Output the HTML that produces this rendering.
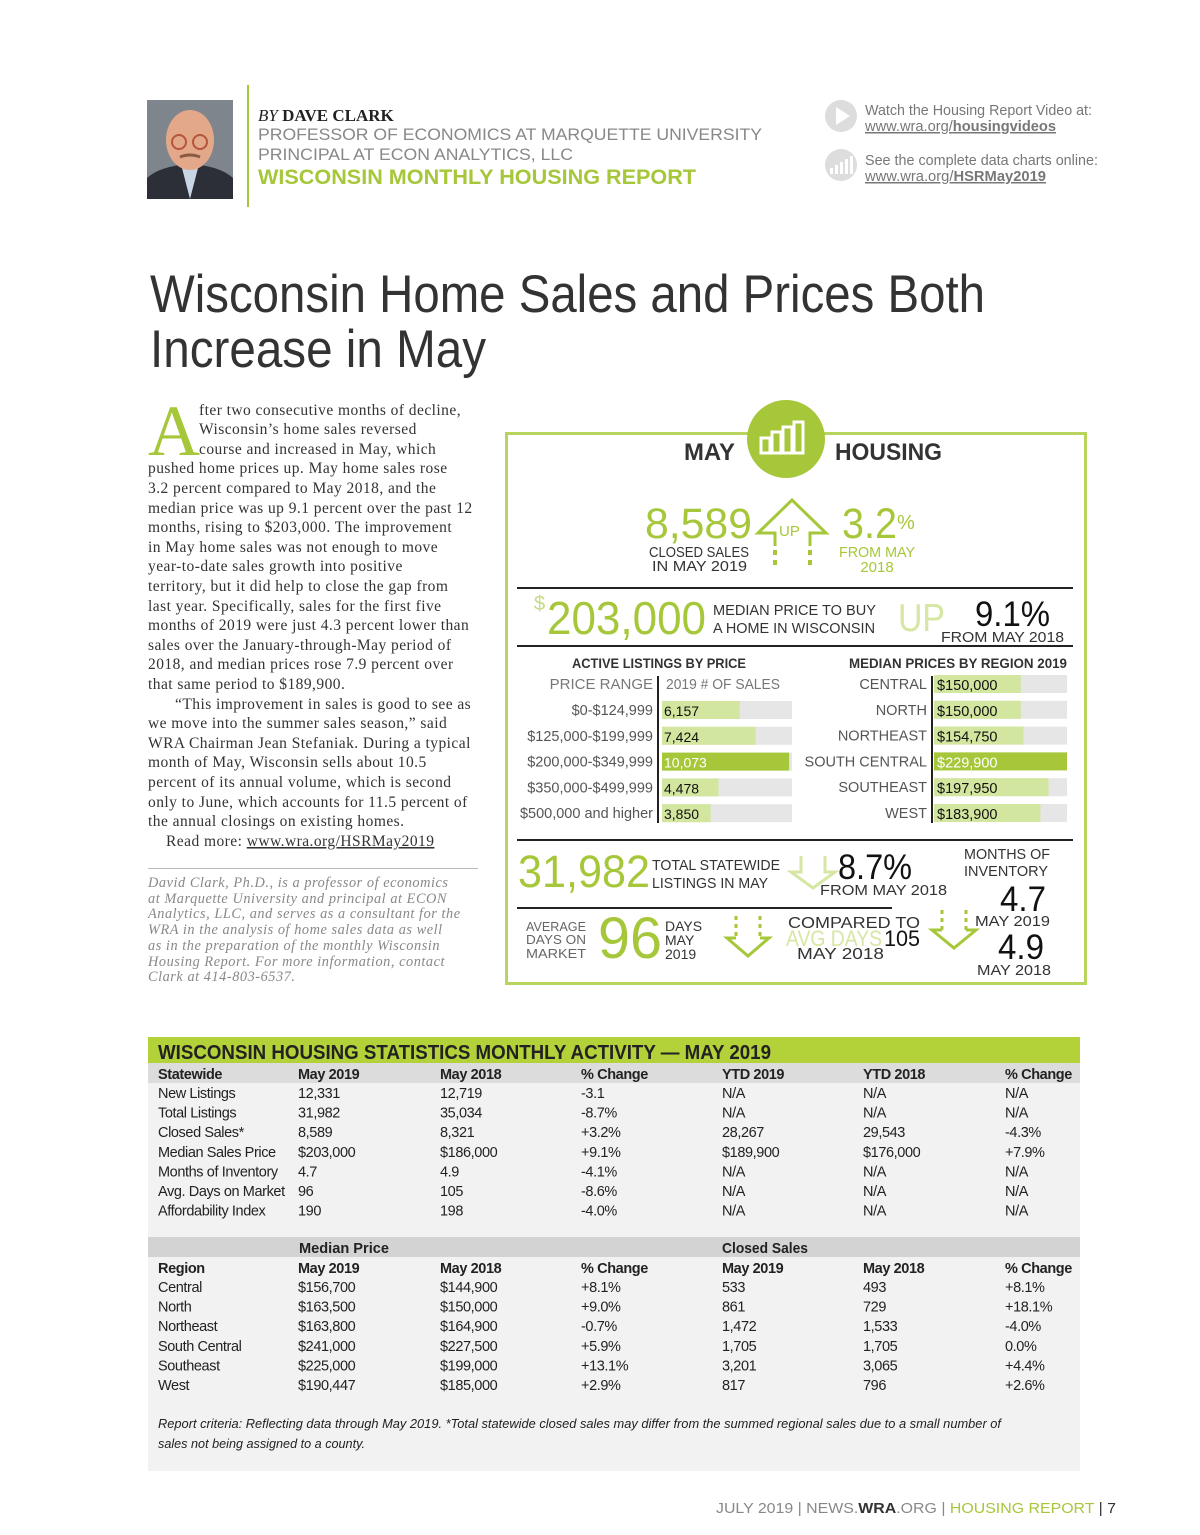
<!DOCTYPE html>
<html><head><meta charset="utf-8"><style>
html,body{margin:0;padding:0;background:#fff}
svg{display:block}
.sans{font-family:"Liberation Sans",sans-serif}
.serif{font-family:"Liberation Serif",serif}
</style></head><body>
<svg id="page" width="1200" height="1535" viewBox="0 0 1200 1535" xmlns="http://www.w3.org/2000/svg">
<rect width="1200" height="1535" fill="#fff"/>
<!-- header -->
<g>
<rect x="147" y="100" width="86" height="99" fill="#7e858c"/>
<path d="M147 199 L147 178 Q160 166 190 164 Q220 166 233 178 L233 199Z" fill="#2c2e38"/>
<path d="M182 168 L190 199 L198 168Z" fill="#c9d6e6"/>
<ellipse cx="190" cy="140" rx="24" ry="30" fill="#e3a88a"/>
<circle cx="179" cy="142" r="7" fill="none" stroke="#b5553a" stroke-width="2"/>
<circle cx="200" cy="142" r="7" fill="none" stroke="#b5553a" stroke-width="2"/>
<path d="M180 157 Q190 153 200 157" stroke="#8a5a40" stroke-width="3" fill="none"/>
</g>
<rect x="247" y="85" width="2" height="122" fill="#a6c73a"/>
<text x="258" y="121" class="serif" font-size="17" font-weight="bold" fill="#222"><tspan font-style="italic" font-weight="normal">BY</tspan> DAVE CLARK</text>
<text x="258" y="140" class="sans" font-size="17" fill="#888" textLength="504" lengthAdjust="spacingAndGlyphs">PROFESSOR OF ECONOMICS AT MARQUETTE UNIVERSITY</text>
<text x="258" y="160" class="sans" font-size="17" fill="#888" textLength="315" lengthAdjust="spacingAndGlyphs">PRINCIPAL AT ECON ANALYTICS, LLC</text>
<text x="258" y="184" class="sans" font-size="21" font-weight="bold" fill="#a6c73a" textLength="438" lengthAdjust="spacingAndGlyphs">WISCONSIN MONTHLY HOUSING REPORT</text>
<circle cx="841" cy="116" r="16" fill="#ddd"/>
<path d="M836 107 L850 116 L836 125Z" fill="#fff"/>
<text x="865" y="115" class="sans" font-size="15" fill="#777" textLength="227" lengthAdjust="spacingAndGlyphs">Watch the Housing Report Video at:</text>
<text x="865" y="131" class="sans" font-size="15" fill="#777" text-decoration="underline" textLength="191" lengthAdjust="spacingAndGlyphs">www.wra.org/<tspan font-weight="bold">housingvideos</tspan></text>
<circle cx="841" cy="165" r="16" fill="#ddd"/>
<g fill="#fff"><rect x="830" y="168" width="3" height="6"/><rect x="835" y="165" width="3" height="9"/><rect x="840" y="162" width="3" height="12"/><rect x="845" y="159" width="3" height="15"/><rect x="850" y="156" width="3" height="18"/></g>
<text x="865" y="165" class="sans" font-size="15" fill="#777" textLength="233" lengthAdjust="spacingAndGlyphs">See the complete data charts online:</text>
<text x="865" y="181" class="sans" font-size="15" fill="#777" text-decoration="underline" textLength="181" lengthAdjust="spacingAndGlyphs">www.wra.org/<tspan font-weight="bold">HSRMay2019</tspan></text>

<!-- title -->
<text x="150" y="312" class="sans" font-size="53" fill="#333" textLength="835" lengthAdjust="spacingAndGlyphs">Wisconsin Home Sales and Prices Both</text>
<text x="150" y="367" class="sans" font-size="53" fill="#333" textLength="336" lengthAdjust="spacingAndGlyphs">Increase in May</text>

<!-- body -->
<text x="148" y="455" class="serif" font-size="72" fill="#a6c73a">A</text>
<g class="serif" font-size="15.5" fill="#333" letter-spacing="0.45">
<text x="199" y="415">fter two consecutive months of decline,</text>
<text x="199" y="434">Wisconsin’s home sales reversed</text>
<text x="199" y="454">course and increased in May, which</text>
<text x="148" y="473">pushed home prices up. May home sales rose</text>
<text x="148" y="493">3.2 percent compared to May 2018, and the</text>
<text x="148" y="513">median price was up 9.1 percent over the past 12</text>
<text x="148" y="532">months, rising to $203,000. The improvement</text>
<text x="148" y="552">in May home sales was not enough to move</text>
<text x="148" y="571">year-to-date sales growth into positive</text>
<text x="148" y="591">territory, but it did help to close the gap from</text>
<text x="148" y="611">last year. Specifically, sales for the first five</text>
<text x="148" y="630">months of 2019 were just 4.3 percent lower than</text>
<text x="148" y="650">sales over the January-through-May period of</text>
<text x="148" y="669">2018, and median prices rose 7.9 percent over</text>
<text x="148" y="689">that same period to $189,900.</text>
<text x="175" y="709">“This improvement in sales is good to see as</text>
<text x="148" y="728">we move into the summer sales season,” said</text>
<text x="148" y="748">WRA Chairman Jean Stefaniak. During a typical</text>
<text x="148" y="767">month of May, Wisconsin sells about 10.5</text>
<text x="148" y="787">percent of its annual volume, which is second</text>
<text x="148" y="807">only to June, which accounts for 11.5 percent of</text>
<text x="148" y="826">the annual closings on existing homes.</text>
<text x="166" y="846">Read more: <tspan text-decoration="underline">www.wra.org/HSRMay2019</tspan></text>
</g>
<rect x="148" y="868" width="330" height="1" fill="#bbb"/>
<g class="serif" font-size="14.3" font-style="italic" fill="#888" letter-spacing="0.55">
<text x="148" y="887">David Clark, Ph.D., is a professor of economics</text>
<text x="148" y="903">at Marquette University and principal at ECON</text>
<text x="148" y="918">Analytics, LLC, and serves as a consultant for the</text>
<text x="148" y="934">WRA in the analysis of home sales data as well</text>
<text x="148" y="950">as in the preparation of the monthly Wisconsin</text>
<text x="148" y="966">Housing Report. For more information, contact</text>
<text x="148" y="981">Clark at 414-803-6537.</text>
</g>

<!-- infographic -->
<g class="sans">
<rect x="506.5" y="433.5" width="579" height="550" fill="#fff" stroke="#b7d45c" stroke-width="3"/>
<circle cx="786" cy="439" r="39" fill="#a6c73a"/>
<g fill="none" stroke="#fff" stroke-width="3"><rect x="761" y="438" width="9" height="15"/><rect x="772" y="432" width="9" height="21"/><rect x="783" y="427" width="9" height="26"/><rect x="794" y="422" width="9" height="31"/></g>
<text x="684" y="460" font-size="24" font-weight="bold" fill="#333" textLength="51" lengthAdjust="spacingAndGlyphs">MAY</text>
<text x="835" y="460" font-size="24" font-weight="bold" fill="#333" textLength="107" lengthAdjust="spacingAndGlyphs">HOUSING</text>

<text x="645" y="538" font-size="43" fill="#a6c73a" textLength="107" lengthAdjust="spacingAndGlyphs">8,589</text>
<path d="M775 546 V533 H758 L792 500 L826 533 H810 V546" fill="none" stroke="#a6c73a" stroke-width="3" stroke-linejoin="miter"/>
<path d="M775 550 V569 M810 550 V569" stroke="#a6c73a" stroke-width="4" stroke-dasharray="5 5"/>
<text x="779" y="536" font-size="15" fill="#a6c73a">UP</text>
<text x="842" y="538" font-size="43" fill="#a6c73a" textLength="55" lengthAdjust="spacingAndGlyphs">3.2</text>
<text x="897" y="529" font-size="20" fill="#a6c73a">%</text>
<text x="649" y="557" font-size="15" fill="#333" textLength="100" lengthAdjust="spacingAndGlyphs">CLOSED SALES</text>
<text x="652" y="571" font-size="15" fill="#333" textLength="95" lengthAdjust="spacingAndGlyphs">IN MAY 2019</text>
<text x="839" y="557" font-size="15" fill="#a6c73a" textLength="76" lengthAdjust="spacingAndGlyphs">FROM MAY</text>
<text x="877" y="572" font-size="15" fill="#a6c73a" text-anchor="middle">2018</text>
<rect x="517" y="587" width="556" height="2" fill="#222"/>

<text x="534" y="610" font-size="20" fill="#c5dc80">$</text>
<text x="547" y="634" font-size="46" fill="#a6c73a" textLength="159" lengthAdjust="spacingAndGlyphs">203,000</text>
<text x="713" y="615" font-size="15" fill="#333" textLength="163" lengthAdjust="spacingAndGlyphs">MEDIAN PRICE TO BUY</text>
<text x="713" y="633" font-size="15" fill="#333" textLength="162" lengthAdjust="spacingAndGlyphs">A HOME IN WISCONSIN</text>
<text x="898" y="631" font-size="39" fill="#d6e6a3" textLength="47" lengthAdjust="spacingAndGlyphs">UP</text>
<text x="975" y="626" font-size="35" fill="#111" textLength="75" lengthAdjust="spacingAndGlyphs">9.1%</text>
<text x="941" y="642" font-size="15" fill="#333" textLength="123" lengthAdjust="spacingAndGlyphs">FROM MAY 2018</text>
<rect x="517" y="645" width="556" height="2" fill="#222"/>

<text x="659" y="668" font-size="14" font-weight="bold" fill="#333" text-anchor="middle" textLength="174" lengthAdjust="spacingAndGlyphs">ACTIVE LISTINGS BY PRICE</text>
<text x="849" y="668" font-size="14" font-weight="bold" fill="#333" textLength="218" lengthAdjust="spacingAndGlyphs">MEDIAN PRICES BY REGION  2019</text>
<text x="653" y="689" font-size="15" fill="#777" text-anchor="end">PRICE RANGE</text>
<text x="666" y="689" font-size="15" fill="#777" textLength="114" lengthAdjust="spacingAndGlyphs">2019 # OF SALES</text>
<rect x="657" y="676" width="2" height="147" fill="#222"/>
<rect x="931" y="676" width="2" height="147" fill="#222"/>
<g id="listingBars"></g>
<g id="regionBars"></g>
<rect x="517" y="839" width="556" height="2" fill="#222"/>

<text x="518" y="887" font-size="45" fill="#a6c73a" textLength="132" lengthAdjust="spacingAndGlyphs">31,982</text>
<text x="652" y="870" font-size="15" fill="#333" textLength="128" lengthAdjust="spacingAndGlyphs">TOTAL STATEWIDE</text>
<text x="652" y="888" font-size="15" fill="#333" textLength="116" lengthAdjust="spacingAndGlyphs">LISTINGS IN MAY</text>
<path d="M801 856 V872 H791 L813 888 L835 872 H825 V856" fill="none" stroke="#d6e6a3" stroke-width="3"/>
<text x="838" y="879" font-size="35" fill="#111" textLength="74" lengthAdjust="spacingAndGlyphs">8.7%</text>
<text x="820" y="895" font-size="15" fill="#333" textLength="127" lengthAdjust="spacingAndGlyphs">FROM MAY 2018</text>
<text x="964" y="859" font-size="15" fill="#333" textLength="86" lengthAdjust="spacingAndGlyphs">MONTHS OF</text>
<text x="964" y="876" font-size="15" fill="#333" textLength="84" lengthAdjust="spacingAndGlyphs">INVENTORY</text>
<text x="1000" y="911" font-size="35" fill="#111" textLength="46" lengthAdjust="spacingAndGlyphs">4.7</text>
<text x="975" y="926" font-size="15" fill="#333" textLength="75" lengthAdjust="spacingAndGlyphs">MAY 2019</text>
<text x="998" y="959" font-size="35" fill="#111" textLength="46" lengthAdjust="spacingAndGlyphs">4.9</text>
<text x="977" y="975" font-size="15" fill="#333" textLength="74" lengthAdjust="spacingAndGlyphs">MAY 2018</text>
<rect x="517" y="907" width="375" height="2" fill="#222"/>

<text x="526" y="931" font-size="13" fill="#666" textLength="60" lengthAdjust="spacingAndGlyphs">AVERAGE</text>
<text x="526" y="944" font-size="13" fill="#666" textLength="60" lengthAdjust="spacingAndGlyphs">DAYS ON</text>
<text x="526" y="958" font-size="13" fill="#666" textLength="60" lengthAdjust="spacingAndGlyphs">MARKET</text>
<text x="598" y="958" font-size="58" fill="#a6c73a" textLength="64" lengthAdjust="spacingAndGlyphs">96</text>
<text x="665" y="931" font-size="14" fill="#333">DAYS</text>
<text x="665" y="945" font-size="14" fill="#333">MAY</text>
<text x="665" y="959" font-size="14" fill="#333">2019</text>
<path d="M736 916 V938 M760 916 V938" stroke="#a6c73a" stroke-width="3" stroke-dasharray="4 4"/>
<path d="M736 938 H727 L748 956 L769 938 H760" fill="none" stroke="#a6c73a" stroke-width="3"/>
<text x="788" y="928" font-size="16" fill="#333" textLength="132" lengthAdjust="spacingAndGlyphs">COMPARED TO</text>
<text x="786" y="946" font-size="22" fill="#d6e6a3" textLength="96" lengthAdjust="spacingAndGlyphs">AVG DAYS</text>
<text x="884" y="946" font-size="22" fill="#111" textLength="36" lengthAdjust="spacingAndGlyphs">105</text>
<text x="797" y="959" font-size="16" fill="#333" textLength="87" lengthAdjust="spacingAndGlyphs">MAY 2018</text>
<path d="M942 910 V930 M966 910 V930" stroke="#a6c73a" stroke-width="3" stroke-dasharray="4 4"/>
<path d="M942 930 H932 L954 948 L976 930 H966" fill="none" stroke="#a6c73a" stroke-width="3"/>
</g>

<!-- table -->
<g class="sans">
<rect x="148" y="1037" width="932" height="434" fill="#f2f2f2"/>
<rect x="148" y="1037" width="932" height="26" fill="#b3d138"/>
<rect x="148" y="1063" width="932" height="20" fill="#dcdcdc"/>
<rect x="148" y="1237" width="932" height="20" fill="#d3d3d3"/>
<text x="158" y="1059" font-size="20" font-weight="bold" fill="#222" textLength="613" lengthAdjust="spacingAndGlyphs">WISCONSIN HOUSING STATISTICS MONTHLY ACTIVITY — MAY 2019</text>
<text x="299" y="1253" font-size="15" font-weight="bold" fill="#222" textLength="90" lengthAdjust="spacingAndGlyphs">Median Price</text>
<text x="722" y="1253" font-size="15" font-weight="bold" fill="#222" textLength="86" lengthAdjust="spacingAndGlyphs">Closed Sales</text>
<g id="tableCells"></g>
<text x="158" y="1428" font-size="13" font-style="italic" fill="#222" textLength="843" lengthAdjust="spacingAndGlyphs">Report criteria: Reflecting data through May 2019. *Total statewide closed sales may differ from the summed regional sales due to a small number of</text>
<text x="158" y="1448" font-size="13" font-style="italic" fill="#222" textLength="207" lengthAdjust="spacingAndGlyphs">sales not being assigned to a county.</text>
</g>

<text x="716" y="1513" class="sans" font-size="15" fill="#888" textLength="400" lengthAdjust="spacingAndGlyphs">JULY 2019  |  NEWS.<tspan fill="#333" font-weight="bold">WRA</tspan>.ORG  |  <tspan fill="#a6c73a">HOUSING REPORT</tspan><tspan fill="#333">  |  7</tspan></text>
</svg>
<script>
const priceRanges = ["$0-$124,999","$125,000-$199,999","$200,000-$349,999","$350,000-$499,999","$500,000 and higher"];
const listingCounts = [6157, 7424, 10073, 4478, 3850];
const listingLabels = ["6,157","7,424","10,073","4,478","3,850"];
const regionNames = ["CENTRAL","NORTH","NORTHEAST","SOUTH CENTRAL","SOUTHEAST","WEST"];
const regionPrices = [150000, 150000, 154750, 229900, 197950, 183900];
const regionLabels = ["$150,000","$150,000","$154,750","$229,900","$197,950","$183,900"];
const statewideHeader = ["Statewide","May 2019","May  2018","% Change","YTD 2019","YTD 2018","% Change"];
const statewideRows = [
 ["New Listings","12,331","12,719","-3.1","N/A","N/A","N/A"],
 ["Total Listings","31,982","35,034","-8.7%","N/A","N/A","N/A"],
 ["Closed Sales*","8,589","8,321","+3.2%","28,267","29,543","-4.3%"],
 ["Median Sales Price","$203,000","$186,000","+9.1%","$189,900","$176,000","+7.9%"],
 ["Months of Inventory","4.7","4.9"," -4.1%","N/A","N/A","N/A"],
 ["Avg. Days on Market","96","105","-8.6%","N/A","N/A","N/A"],
 ["Affordability Index","190","198","-4.0%","N/A","N/A","N/A"]];
const regionHeader = ["Region","May 2019","May 2018","% Change","May 2019","May 2018","% Change"];
const regionRows = [
 ["Central","$156,700","$144,900","+8.1%","533","493","+8.1%"],
 ["North","$163,500","$150,000","+9.0%","861","729","+18.1%"],
 ["Northeast","$163,800","$164,900","-0.7%","1,472","1,533","-4.0%"],
 ["South Central","$241,000","$227,500","+5.9%","1,705","1,705","0.0%"],
 ["Southeast","$225,000","$199,000","+13.1%","3,201","3,065","+4.4%"],
 ["West","$190,447","$185,000","+2.9%","817","796","+2.6%"]];

const NS = "http://www.w3.org/2000/svg";
const listX0 = 662, listW = 130, listMax = 10300;
const xList = v => listW * v / listMax;
const listY = i => 701 + i * 25.8;
const regX0 = 934, regW = 133, regMax = 229900;
const xReg = v => regW * v / regMax;
const regY = i => 675 + i * 25.8;

function mk(tag, parent) { const e = document.createElementNS(NS, tag); parent.appendChild(e); return e; }

const lg = document.getElementById("listingBars");
const lMaxV = Math.max(...listingCounts);
listingCounts.forEach((v, i) => {
  const bg = mk("rect", lg);
  bg.setAttribute("x", listX0); bg.setAttribute("y", listY(i)); bg.setAttribute("width", listW); bg.setAttribute("height", 18); bg.setAttribute("fill", "#e6e6e6");
  
  
  const b = mk("rect", lg);
  b.setAttribute("x", listX0); b.setAttribute("y", listY(i)); b.setAttribute("width", xList(v)); b.setAttribute("height", 18);
  b.setAttribute("fill", v === lMaxV ? "#a6c73a" : "#d3e69f");
  
  
  const t = mk("text", lg);
  t.setAttribute("x", listX0 + 2); t.setAttribute("y", listY(i) + 15); t.setAttribute("font-size", "14");
  t.setAttribute("fill", v === lMaxV ? "#fff" : "#111"); t.textContent = listingLabels[i];
  
  
  const l = mk("text", lg);
  l.setAttribute("x", 653); l.setAttribute("y", listY(i) + 14); l.setAttribute("font-size", "14.5"); l.setAttribute("text-anchor", "end"); l.setAttribute("fill", "#555");
  l.textContent = priceRanges[i];
  
  
});

const rg = document.getElementById("regionBars");
const rMaxV = Math.max(...regionPrices);
regionPrices.forEach((v, i) => {
  const bg = mk("rect", rg);
  bg.setAttribute("x", regX0); bg.setAttribute("y", regY(i)); bg.setAttribute("width", regW); bg.setAttribute("height", 18); bg.setAttribute("fill", "#e6e6e6");
  
  
  const b = mk("rect", rg);
  b.setAttribute("x", regX0); b.setAttribute("y", regY(i)); b.setAttribute("width", xReg(v)); b.setAttribute("height", 18);
  b.setAttribute("fill", v === rMaxV ? "#a6c73a" : "#d3e69f");
  
  
  const t = mk("text", rg);
  t.setAttribute("x", regX0 + 3); t.setAttribute("y", regY(i) + 15); t.setAttribute("font-size", "14.5");
  t.setAttribute("fill", v === rMaxV ? "#fff" : "#111"); t.textContent = regionLabels[i];
  
  
  const l = mk("text", rg);
  l.setAttribute("x", 927); l.setAttribute("y", regY(i) + 14); l.setAttribute("font-size", "14.5"); l.setAttribute("text-anchor", "end"); l.setAttribute("fill", "#555");
  l.textContent = regionNames[i];
  
  
});

const colX = [158, 298, 440, 581, 722, 863, 1005];
const tc = document.getElementById("tableCells");
function row(cells, y, bold) {
  cells.forEach((c, j) => {
    const t = mk("text", tc);
    t.setAttribute("x", colX[j]); t.setAttribute("y", y); t.setAttribute("font-size", "14.5");
    t.setAttribute("fill", "#222"); t.setAttribute("letter-spacing", "-0.4");
    if (bold) t.setAttribute("font-weight", "bold");
    t.setAttribute("xml:space", "preserve");
    t.textContent = c;
    
    
  });
}
row(statewideHeader, 1079, true);
statewideRows.forEach((r, i) => row(r, 1098 + i * 19.6, false));
row(regionHeader, 1273, true);
regionRows.forEach((r, i) => row(r, 1292 + i * 19.6, false));
</script>
</body></html>
